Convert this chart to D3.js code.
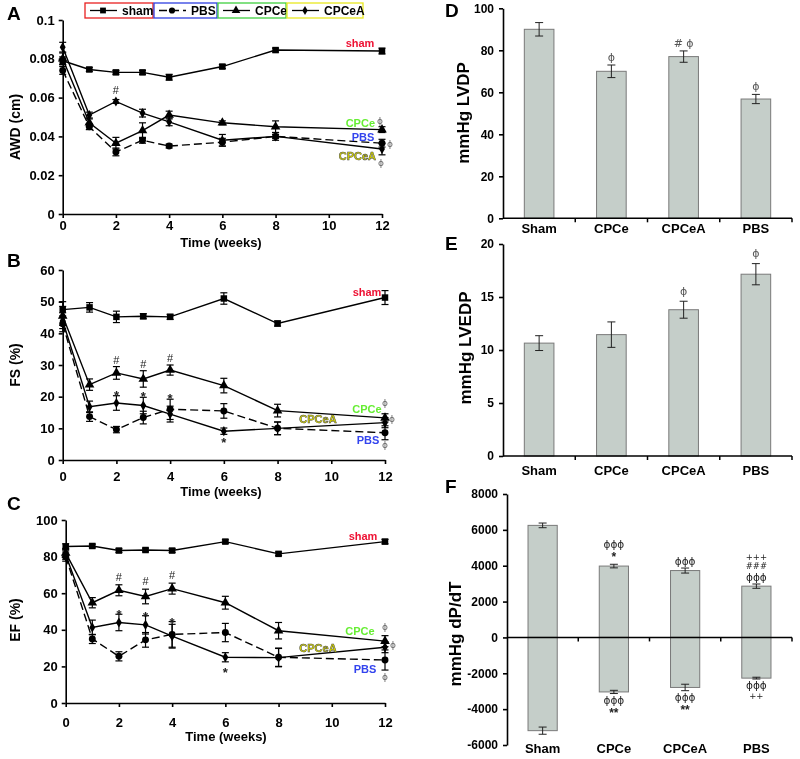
<!DOCTYPE html>
<html>
<head>
<meta charset="utf-8">
<script src="https://cdn.jsdelivr.net/npm/d3@7"></script>
<style>
  body { margin: 0; background: #fff; }
  #fig { will-change: transform; }
</style>
</head>
<body>
<svg id="fig" width="800" height="759"></svg>
<script>
// ---- data ----
const weeks = [0, 1, 2, 3, 4, 6, 8, 12];
const weekTicks = [0, 2, 4, 6, 8, 10, 12];

// A: AWD (cm)
const awdSham = [0.079, 0.0745, 0.073, 0.073, 0.0705, 0.076, 0.0845, 0.084];
const awdShamErr = [0.002, 0.001, 0.001, 0.001, 0.0015, 0.001, 0.001, 0.0015];
const awdPBS = [0.074, 0.045, 0.032, 0.038, 0.035, 0.037, 0.040, 0.0365];
const awdPBSErr = [0.002, 0.0015, 0.002, 0.0015, 0.001, 0.002, 0.001, 0.002];
const awdCPCe = [0.080, 0.047, 0.0365, 0.043, 0.051, 0.047, 0.045, 0.0435];
const awdCPCeErr = [0.003, 0.002, 0.003, 0.004, 0.002, 0.001, 0.003, 0.0015];
const awdCPCeA = [0.086, 0.051, 0.058, 0.052, 0.0475, 0.038, 0.040, 0.0335];
const awdCPCeAErr = [0.0025, 0.0015, 0.001, 0.002, 0.002, 0.003, 0.002, 0.003];

// B: FS (%)
const fsSham = [47.5, 48.2, 45.2, 45.4, 45.2, 51.0, 43.1, 51.3];
const fsShamErr = [2.5, 1.5, 1.8, 0.8, 0.8, 1.8, 0.8, 2.2];
const fsPBS = [43.0, 13.7, 9.6, 13.4, 16.0, 15.5, 10.0, 8.6];
const fsPBSErr = [2.5, 1.5, 1.0, 2.0, 3.2, 2.3, 2.0, 2.2];
const fsCPCe = [45.5, 23.8, 27.5, 25.6, 28.4, 23.5, 15.6, 13.3];
const fsCPCeErr = [3.0, 1.8, 2.0, 2.6, 1.6, 2.3, 2.0, 1.3];
const fsCPCeA = [44.0, 16.8, 18.0, 17.2, 14.5, 9.1, 10.0, 11.8];
const fsCPCeAErr = [2.5, 1.8, 2.3, 2.6, 2.5, 1.0, 2.0, 1.6];

// C: EF (%)
const efSham = [85.5, 85.8, 83.3, 83.6, 83.3, 88.2, 81.5, 88.2];
const efShamErr = [1.5, 1.0, 1.0, 1.0, 1.0, 1.0, 1.0, 1.2];
const efPBS = [80.0, 35.0, 25.5, 34.5, 37.5, 38.5, 25.0, 23.5];
const efPBSErr = [2.5, 2.5, 2.5, 4.0, 7.0, 5.0, 5.0, 5.5];
const efCPCe = [82.0, 54.8, 61.6, 58.2, 62.5, 54.8, 39.5, 33.8];
const efCPCeErr = [2.5, 2.8, 3.0, 4.0, 3.0, 3.5, 4.5, 3.0];
const efCPCeA = [81.0, 41.3, 44.0, 42.7, 36.5, 25.0, 24.8, 30.5];
const efCPCeAErr = [2.5, 4.0, 4.5, 5.0, 6.5, 2.5, 5.0, 3.0];

// D-F: bar groups
const barGroups = ["Sham", "CPCe", "CPCeA", "PBS"];
const lvdp = [90, 70, 77, 56.8];
const lvdpErr = [3.2, 3.0, 2.7, 2.2];
const lvedp = [10.65, 11.45, 13.8, 17.15];
const lvedpErr = [0.7, 1.2, 0.8, 1.0];
const dpdtMax = [6250, 3980, 3730, 2860];
const dpdtMaxErr = [130, 100, 140, 120];
const dpdtMin = [-5200, -3040, -2790, -2270];
const dpdtMinErr = [200, 90, 180, 50];

// significance marks on bars (listed from bar outward)
const lvdpMarks = [[], ["ϕ"], ["# ϕ"], ["ϕ"]];
const lvedpMarks = [[], [], ["ϕ"], ["ϕ"]];
const dpdtMaxMarks = [[], ["*", "ϕϕϕ"], ["ϕϕϕ"], ["ϕϕϕ", "###", "+++"]];
const dpdtMinMarks = [[], ["ϕϕϕ", "**"], ["ϕϕϕ", "**"], ["ϕϕϕ", "++"]];

const FONT = "'Liberation Sans', Arial, sans-serif";
const PHI_FONT = "'DejaVu Sans', sans-serif";

const groupsInfo = {
  sham:  { label: "sham",  symbol: d3.symbolSquare,   size: 42, dash: null, text: "#ee1133", box: "#e82020" },
  PBS:   { label: "PBS",   symbol: d3.symbolCircle,   size: 38, dash: "8,4", text: "#3344ee", box: "#3040e0" },
  CPCe:  { label: "CPCe",  symbol: d3.symbolTriangle, size: 40, dash: null, text: "#66ee33", box: "#40d040" },
  CPCeA: { label: "CPCeA", symbol: d3.symbolDiamond,  size: 30, dash: null, text: "#d8d800", box: "#e8e820" }
};
const drawOrder = ["PBS", "CPCeA", "CPCe", "sham"];

const svg = d3.select("#fig");

function styleAxis(a, size) {
  a.attr("font-family", FONT).attr("font-size", size).attr("font-weight", "bold");
  a.selectAll("path.domain").attr("stroke", "#000").attr("stroke-width", 1.6);
  a.selectAll(".tick line").attr("stroke", "#000").attr("stroke-width", 1.6);
  a.selectAll(".tick text").attr("fill", "#000");
}

function panelLetter(t, x, y) {
  svg.append("text").attr("x", x).attr("y", y)
    .attr("font-family", FONT).attr("font-size", 19).attr("font-weight", "bold")
    .text(t);
}

function linePanel(cfg) {
  const x = d3.scaleLinear().domain([0, 12]).range([cfg.x0, cfg.x1]);
  const y = d3.scaleLinear().domain(cfg.domain).range([cfg.yBot, cfg.yTop]);
  const g = svg.append("g");

  g.append("g")
    .attr("transform", `translate(0,${cfg.yBot})`)
    .call(d3.axisBottom(x).tickValues(weekTicks).tickSize(4).tickPadding(cfg.xPad).tickSizeOuter(0))
    .call(a => styleAxis(a, 13));

  g.append("g")
    .attr("transform", `translate(${cfg.x0},0)`)
    .call(d3.axisLeft(y).tickValues(cfg.ticks).tickFormat(cfg.fmt).tickSize(4).tickPadding(4).tickSizeOuter(0))
    .call(a => styleAxis(a, 13));

  g.append("text")
    .attr("x", cfg.titleX).attr("y", cfg.titleY)
    .attr("text-anchor", "middle")
    .attr("font-family", FONT).attr("font-size", 13).attr("font-weight", "bold")
    .text("Time (weeks)");

  g.append("text")
    .attr("transform", `translate(${cfg.ylabX},${cfg.ylabY}) rotate(-90)`)
    .attr("text-anchor", "middle").attr("dy", "0.35em")
    .attr("font-family", FONT).attr("font-size", 14).attr("font-weight", "bold")
    .text(cfg.ylabel);

  const line = d3.line().x((d, i) => x(weeks[i])).y(d => y(d));

  drawOrder.forEach(key => {
    const vals = cfg.data[key][0];
    g.append("path").datum(vals)
      .attr("d", line)
      .attr("fill", "none")
      .attr("stroke", "#000")
      .attr("stroke-width", 1.4)
      .attr("stroke-dasharray", groupsInfo[key].dash);
  });

  drawOrder.forEach(key => {
    const [vals, errs] = cfg.data[key];
    const eb = g.append("g").attr("stroke", "#000").attr("stroke-width", 1.2);
    vals.forEach((v, i) => {
      const cx = x(weeks[i]);
      const top = y(v + errs[i]);
      const bot = y(v - errs[i]);
      eb.append("line").attr("x1", cx).attr("x2", cx).attr("y1", top).attr("y2", bot);
      eb.append("line").attr("x1", cx - 3.5).attr("x2", cx + 3.5).attr("y1", top).attr("y2", top);
      eb.append("line").attr("x1", cx - 3.5).attr("x2", cx + 3.5).attr("y1", bot).attr("y2", bot);
    });
  });

  drawOrder.forEach(key => {
    const info = groupsInfo[key];
    g.selectAll(null).data(cfg.data[key][0]).join("path")
      .attr("transform", (d, i) => `translate(${x(weeks[i])},${y(d)})`)
      .attr("d", d3.symbol().type(info.symbol).size(info.size))
      .attr("fill", "#000");
  });

  // significance marks (# / *)
  cfg.notes.forEach(n => {
    const [vals, errs] = cfg.data[n.s];
    const i = weeks.indexOf(n.w);
    const yy = n.below ? y(vals[i] - errs[i]) + n.dy : y(vals[i] + errs[i]) + n.dy;
    g.append("text")
      .attr("x", x(n.w)).attr("y", yy)
      .attr("text-anchor", "middle")
      .attr("font-family", FONT)
      .attr("font-size", n.t === "*" ? 13 : 11)
      .attr("font-weight", n.t === "*" ? "bold" : "normal")
      .attr("fill", "#222")
      .text(n.t);
  });

  // group labels at the right end
  cfg.ends.forEach(e => {
    const info = groupsInfo[e.key];
    const t = g.append("text")
      .attr("x", e.x).attr("y", e.y)
      .attr("text-anchor", e.anchor || "middle")
      .attr("font-family", FONT).attr("font-size", 11).attr("font-weight", "bold")
      .attr("fill", info.text)
      .text(info.label);
    if (e.key === "CPCeA") t.attr("stroke", "#444").attr("stroke-width", 0.5);
  });
  cfg.phis.forEach(p => {
    g.append("text").attr("x", p[0]).attr("y", p[1])
      .attr("text-anchor", "middle")
      .attr("font-family", PHI_FONT).attr("font-size", 9).attr("fill", "#666")
      .text("ϕ");
  });
}

function barPanel(cfg) {
  const x = d3.scaleBand().domain(barGroups).range([cfg.x0, cfg.x1]);
  const y = d3.scaleLinear().domain(cfg.domain).range([cfg.yBot, cfg.yTop]);
  const g = svg.append("g");
  const bw = x.bandwidth();
  const barW = bw * 0.41;

  g.append("g")
    .attr("transform", `translate(${cfg.x0},0)`)
    .call(d3.axisLeft(y).tickValues(cfg.ticks).tickFormat(d => String(d)).tickSize(4).tickPadding(5).tickSizeOuter(0))
    .call(a => styleAxis(a, 12));

  // bars + error bars
  cfg.sets.forEach(([vals, errs, marks]) => {
    g.selectAll(null).data(vals).join("rect")
      .attr("x", (d, i) => x(barGroups[i]) + (bw - barW) / 2)
      .attr("y", d => Math.min(y(d), y(0)))
      .attr("width", barW)
      .attr("height", d => Math.abs(y(d) - y(0)))
      .attr("fill", "#c5cec9")
      .attr("stroke", "#7a7a7a")
      .attr("stroke-width", 1);

    const eb = g.append("g").attr("stroke", "#222").attr("stroke-width", 1);
    vals.forEach((v, i) => {
      const cx = x(barGroups[i]) + bw / 2;
      const sign = v >= 0 ? 1 : -1;
      const tip = y(v + sign * errs[i]);
      const base = y(v - sign * errs[i]);
      eb.append("line").attr("x1", cx).attr("x2", cx).attr("y1", tip).attr("y2", base);
      eb.append("line").attr("x1", cx - 4).attr("x2", cx + 4).attr("y1", tip).attr("y2", tip);
      eb.append("line").attr("x1", cx - 4).attr("x2", cx + 4).attr("y1", base).attr("y2", base);

      // marks stacked outward from the error bar tip, one text line each
      let pos = tip - sign * cfg.gap;
      marks[i].forEach(m => {
        const isPhi = m.includes("ϕ");
        const isStar = m.includes("*");
        const fs = cfg.big ? (isStar ? 12 : (isPhi ? 10.5 : 8.5)) : 11;
        const h = fs * 1.12;
        let yy;
        if (sign > 0) {
          yy = pos - fs * 0.22;
          pos -= h;
        } else {
          yy = pos + fs * 0.9;
          pos += h;
        }
        g.append("text")
          .attr("x", cx).attr("y", yy)
          .attr("text-anchor", "middle")
          .attr("font-family", isStar ? FONT : PHI_FONT)
          .attr("font-weight", isStar ? "bold" : "normal")
          .attr("font-size", fs)
          .attr("fill", cfg.big ? "#222" : "#555")
          .text(m);
      });
    });
  });

  // category axis (baseline at zero)
  const zy = y(0);
  g.append("line")
    .attr("x1", cfg.x0).attr("x2", cfg.x1).attr("y1", zy).attr("y2", zy)
    .attr("stroke", "#000").attr("stroke-width", 1.5);
  g.selectAll(null).data(barGroups).join("line")
    .attr("x1", d => x(d) + bw).attr("x2", d => x(d) + bw)
    .attr("y1", zy).attr("y2", zy + 4)
    .attr("stroke", "#000").attr("stroke-width", 1.5);

  g.selectAll(null).data(barGroups).join("text")
    .attr("x", d => x(d) + bw / 2)
    .attr("y", cfg.labelY)
    .attr("text-anchor", "middle")
    .attr("font-family", FONT).attr("font-size", 13).attr("font-weight", "bold")
    .text(d => d);

  g.append("text")
    .attr("transform", `translate(${cfg.ylabX},${cfg.ylabY}) rotate(-90)`)
    .attr("text-anchor", "middle").attr("dy", "0.35em")
    .attr("font-family", FONT).attr("font-size", 17).attr("font-weight", "bold")
    .text(cfg.ylabel);
}

// ---- legend (top of panel A) ----
const legendBoxes = [
  { key: "sham", x: 85, w: 68 },
  { key: "PBS", x: 154, w: 63 },
  { key: "CPCe", x: 218, w: 68 },
  { key: "CPCeA", x: 287, w: 76 }
];
legendBoxes.forEach(b => {
  const info = groupsInfo[b.key];
  const lg = svg.append("g").attr("transform", `translate(${b.x},3)`);
  lg.append("rect").attr("width", b.w).attr("height", 15)
    .attr("fill", "#fff").attr("stroke", info.box).attr("stroke-width", 1.3);
  lg.append("line").attr("x1", 5).attr("x2", 32).attr("y1", 7.5).attr("y2", 7.5)
    .attr("stroke", "#000").attr("stroke-width", 1.3).attr("stroke-dasharray", info.dash);
  lg.append("path").attr("transform", "translate(18,7.5)")
    .attr("d", d3.symbol().type(info.symbol).size(info.size * 0.8)).attr("fill", "#000");
  lg.append("text").attr("x", 37).attr("y", 12)
    .attr("font-family", FONT).attr("font-size", 12).attr("font-weight", "bold")
    .text(info.label);
});

// ---- panels A-C ----
panelLetter("A", 7, 20);
linePanel({
  x0: 62.7, x1: 382, yTop: 20, yBot: 214, domain: [0, 0.1],
  ticks: [0, 0.02, 0.04, 0.06, 0.08, 0.1], fmt: d => String(+d.toFixed(2)),
  xPad: 3, titleX: 221, titleY: 247,
  ylabel: "AWD (cm)", ylabX: 15, ylabY: 127,
  data: { sham: [awdSham, awdShamErr], PBS: [awdPBS, awdPBSErr], CPCe: [awdCPCe, awdCPCeErr], CPCeA: [awdCPCeA, awdCPCeAErr] },
  notes: [{ s: "CPCeA", w: 2, t: "#", dy: -6 }],
  ends: [
    { key: "sham", x: 360, y: 47 },
    { key: "CPCe", x: 375, y: 127, anchor: "end" },
    { key: "PBS", x: 363, y: 141 },
    { key: "CPCeA", x: 376, y: 160, anchor: "end" }
  ],
  phis: [[380, 124], [390, 147], [381, 166]]
});

panelLetter("B", 7, 267);
linePanel({
  x0: 62.7, x1: 385, yTop: 270, yBot: 460, domain: [0, 60],
  ticks: [0, 10, 20, 30, 40, 50, 60], fmt: d3.format("d"),
  xPad: 8, titleX: 221, titleY: 496,
  ylabel: "FS (%)", ylabX: 15, ylabY: 365,
  data: { sham: [fsSham, fsShamErr], PBS: [fsPBS, fsPBSErr], CPCe: [fsCPCe, fsCPCeErr], CPCeA: [fsCPCeA, fsCPCeAErr] },
  notes: [
    { s: "CPCe", w: 2, t: "#", dy: -3 }, { s: "CPCe", w: 3, t: "#", dy: -3 }, { s: "CPCe", w: 4, t: "#", dy: -3 },
    { s: "CPCeA", w: 2, t: "*", dy: 4 }, { s: "CPCeA", w: 3, t: "*", dy: 4 }, { s: "PBS", w: 4, t: "*", dy: 4 },
    { s: "CPCeA", w: 6, t: "*", dy: 13, below: true }
  ],
  ends: [
    { key: "sham", x: 367, y: 296 },
    { key: "CPCe", x: 367, y: 413 },
    { key: "CPCeA", x: 318, y: 423 },
    { key: "PBS", x: 368, y: 444 }
  ],
  phis: [[385, 406], [392, 422], [385, 448]]
});

panelLetter("C", 7, 510);
linePanel({
  x0: 65.7, x1: 385, yTop: 520, yBot: 703, domain: [0, 100],
  ticks: [0, 20, 40, 60, 80, 100], fmt: d3.format("d"),
  xPad: 11, titleX: 226, titleY: 741,
  ylabel: "EF (%)", ylabX: 15, ylabY: 620,
  data: { sham: [efSham, efShamErr], PBS: [efPBS, efPBSErr], CPCe: [efCPCe, efCPCeErr], CPCeA: [efCPCeA, efCPCeAErr] },
  notes: [
    { s: "CPCe", w: 2, t: "#", dy: -4 }, { s: "CPCe", w: 3, t: "#", dy: -4 }, { s: "CPCe", w: 4, t: "#", dy: -4 },
    { s: "CPCeA", w: 2, t: "*", dy: 5 }, { s: "CPCeA", w: 3, t: "*", dy: 5 }, { s: "PBS", w: 4, t: "*", dy: 5 },
    { s: "CPCeA", w: 6, t: "*", dy: 15, below: true }
  ],
  ends: [
    { key: "sham", x: 363, y: 540 },
    { key: "CPCe", x: 360, y: 635 },
    { key: "CPCeA", x: 318, y: 652 },
    { key: "PBS", x: 365, y: 673 }
  ],
  phis: [[385, 630], [393, 648], [385, 680]]
});

// ---- panels D-F ----
panelLetter("D", 445, 17);
barPanel({
  x0: 503, x1: 792, yTop: 8.3, yBot: 218.3, domain: [0, 100],
  ticks: [0, 20, 40, 60, 80, 100], labelY: 233, gap: 2,
  ylabel: "mmHg LVDP", ylabX: 463, ylabY: 113,
  sets: [[lvdp, lvdpErr, lvdpMarks]]
});

panelLetter("E", 445, 250);
barPanel({
  x0: 503, x1: 792, yTop: 244, yBot: 456, domain: [0, 20],
  ticks: [0, 5, 10, 15, 20], labelY: 475, gap: 4,
  ylabel: "mmHg LVEDP", ylabX: 465, ylabY: 348,
  sets: [[lvedp, lvedpErr, lvedpMarks]]
});

panelLetter("F", 445, 493);
barPanel({
  x0: 507, x1: 792, yTop: 494, yBot: 745, domain: [-6000, 8000],
  ticks: d3.range(-6000, 8001, 2000), labelY: 753, gap: 1, big: true,
  ylabel: "mmHg dP/dT", ylabX: 455, ylabY: 634,
  sets: [[dpdtMax, dpdtMaxErr, dpdtMaxMarks], [dpdtMin, dpdtMinErr, dpdtMinMarks]]
});
</script>
</body>
</html>
